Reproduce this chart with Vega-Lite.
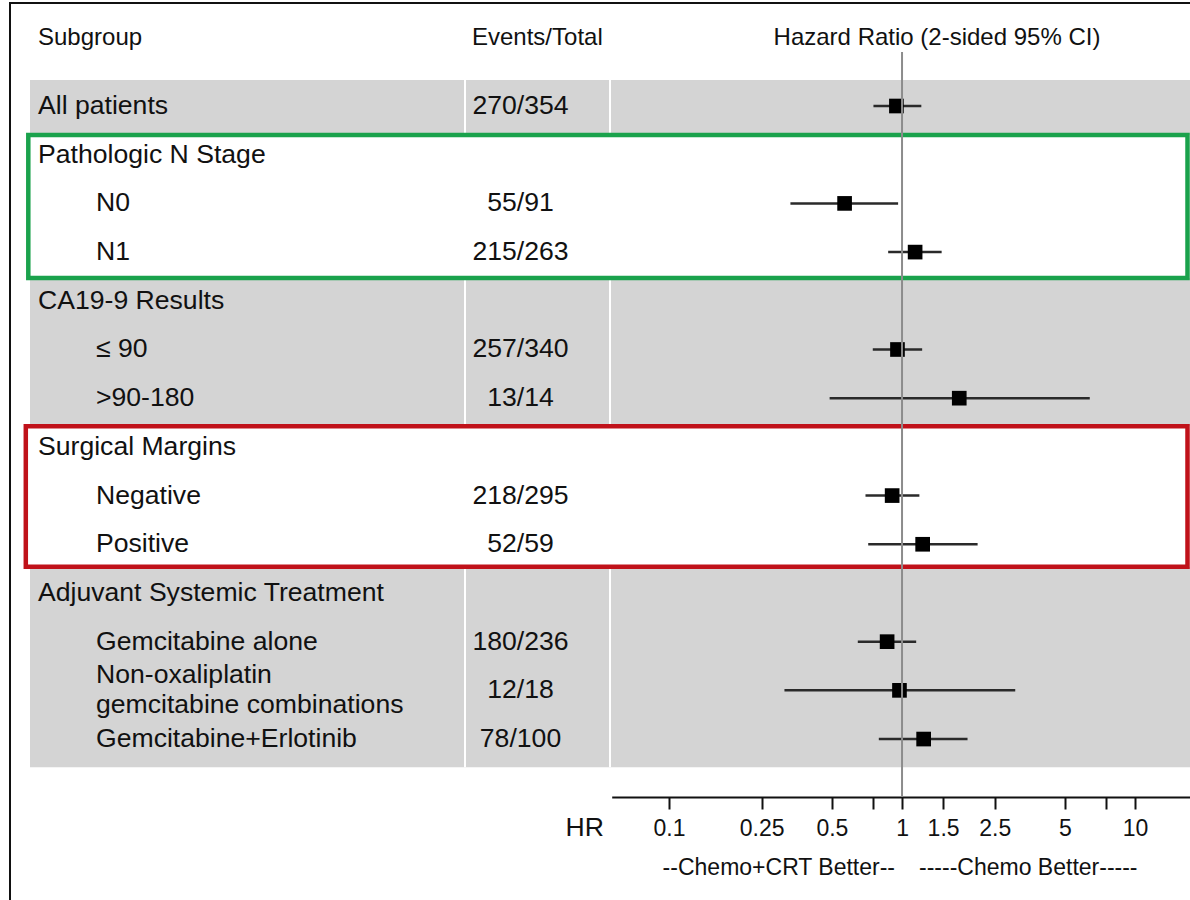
{
  "$schema": "https://vega.github.io/schema/vega-lite/v6.json",
  "width": 1190,
  "height": 797,
  "autosize": {"type": "none"},
  "padding": {"left": 0, "top": 0, "right": 0, "bottom": 103},
  "background": "white",
  "config": {
    "view": {"stroke": null},
    "text": {"font": "Liberation Sans", "color": "#111111"}
  },
  "datasets": {
    "rows": [
      {"row": 0, "label": "All patients", "level": 0, "events": "270/354", "hr": 0.946, "lo": 0.754, "hi": 1.21},
      {"row": 1, "label": "Pathologic N Stage", "level": 0},
      {"row": 2, "label": "N0", "level": 1, "events": "55/91", "hr": 0.567, "lo": 0.332, "hi": 0.962},
      {"row": 3, "label": "N1", "level": 1, "events": "215/263", "hr": 1.138, "lo": 0.872, "hi": 1.479},
      {"row": 4, "label": "CA19-9 Results", "level": 0},
      {"row": 5, "label": "≤ 90", "level": 1, "events": "257/340", "hr": 0.956, "lo": 0.749, "hi": 1.22},
      {"row": 6, "label": ">90-180", "level": 1, "events": "13/14", "hr": 1.76, "lo": 0.489, "hi": 6.39},
      {"row": 7, "label": "Surgical Margins", "level": 0},
      {"row": 8, "label": "Negative", "level": 1, "events": "218/295", "hr": 0.907, "lo": 0.697, "hi": 1.187},
      {"row": 9, "label": "Positive", "level": 1, "events": "52/59", "hr": 1.226, "lo": 0.716, "hi": 2.11},
      {"row": 10, "label": "Adjuvant Systemic Treatment", "level": 0},
      {"row": 11, "label": "Gemcitabine alone", "level": 1, "events": "180/236", "hr": 0.863, "lo": 0.646, "hi": 1.15},
      {"row": 12, "label": ["Non-oxaliplatin", "gemcitabine combinations"], "level": 1, "events": "12/18", "hr": 0.975, "lo": 0.313, "hi": 3.06},
      {"row": 13, "label": "Gemcitabine+Erlotinib", "level": 1, "events": "78/100", "hr": 1.238, "lo": 0.795, "hi": 1.91}
    ],
    "one": [{}]
  },
  "data": {"name": "rows"},
  "resolve": {"scale": {"x": "independent"}, "axis": {"x": "independent"}},
  "layer": [
    {
      "layer": [
        {"data": {"name": "one"}, "mark": {"type": "rect", "color": "#d4d4d4"},
         "encoding": {
           "x": {"datum": 30, "type": "quantitative", "scale": {"domain": [0, 1190], "nice": false, "zero": false}, "axis": null},
           "x2": {"datum": 1190},
           "y": {"datum": -0.534, "type": "quantitative", "scale": {"domain": [-2.177, 14.19], "reverse": true, "nice": false, "zero": false}, "axis": null},
           "y2": {"datum": 0.596}}},
        {"data": {"name": "one"}, "mark": {"type": "rect", "color": "#d4d4d4"},
         "encoding": {"x": {"datum": 30, "type": "quantitative"}, "x2": {"datum": 1190}, "y": {"datum": 3.533, "type": "quantitative"}, "y2": {"datum": 6.572}}},
        {"data": {"name": "one"}, "mark": {"type": "rect", "color": "#d4d4d4"},
         "encoding": {"x": {"datum": 30, "type": "quantitative"}, "x2": {"datum": 1190}, "y": {"datum": 9.468, "type": "quantitative"}, "y2": {"datum": 13.577}}},
        {"data": {"name": "one"}, "mark": {"type": "rule", "color": "white", "strokeWidth": 2},
         "encoding": {"x": {"datum": 465, "type": "quantitative"}, "y": {"datum": -0.534, "type": "quantitative"}, "y2": {"datum": 13.577}}},
        {"data": {"name": "one"}, "mark": {"type": "rule", "color": "white", "strokeWidth": 2},
         "encoding": {"x": {"datum": 610, "type": "quantitative"}, "y": {"datum": -0.534, "type": "quantitative"}, "y2": {"datum": 13.577}}},
        {"data": {"name": "one"}, "mark": {"type": "rect", "fill": null, "stroke": "#1aa24c", "strokeWidth": 4.5},
         "encoding": {"x": {"datum": 28.3, "type": "quantitative"}, "x2": {"datum": 1187.5}, "y": {"datum": 0.596, "type": "quantitative"}, "y2": {"datum": 3.533}}},
        {"data": {"name": "one"}, "mark": {"type": "rect", "fill": null, "stroke": "#c0121a", "strokeWidth": 4.5},
         "encoding": {"x": {"datum": 25.8, "type": "quantitative"}, "x2": {"datum": 1187.5}, "y": {"datum": 6.578, "type": "quantitative"}, "y2": {"datum": 9.462}}},
        {"data": {"name": "one"}, "mark": {"type": "rect", "fill": null, "stroke": "#111111", "strokeWidth": 2},
         "encoding": {"x": {"datum": 10, "type": "quantitative"}, "x2": {"datum": 1300}, "y": {"datum": -2.115, "type": "quantitative"}, "y2": {"datum": 17}}},
        {"data": {"name": "one"}, "mark": {"type": "text", "align": "left", "baseline": "middle", "fontSize": 24, "text": "Subgroup"},
         "encoding": {"x": {"datum": 38, "type": "quantitative"}, "y": {"datum": -1.397, "type": "quantitative"}}},
        {"data": {"name": "one"}, "mark": {"type": "text", "align": "left", "baseline": "middle", "fontSize": 24, "text": "Events/Total"},
         "encoding": {"x": {"datum": 472, "type": "quantitative"}, "y": {"datum": -1.397, "type": "quantitative"}}},
        {"data": {"name": "one"}, "mark": {"type": "text", "align": "center", "baseline": "middle", "fontSize": 24, "text": "Hazard Ratio (2-sided 95% CI)"},
         "encoding": {"x": {"datum": 937, "type": "quantitative"}, "y": {"datum": -1.397, "type": "quantitative"}}},
        {"transform": [{"filter": "datum.level == 0"}],
         "mark": {"type": "text", "align": "left", "baseline": "middle", "fontSize": 26.6},
         "encoding": {"x": {"datum": 38, "type": "quantitative"}, "y": {"field": "row", "type": "quantitative"}, "text": {"field": "label"}}},
        {"transform": [{"filter": "datum.level == 1 && !isArray(datum.label)"}],
         "mark": {"type": "text", "align": "left", "baseline": "middle", "fontSize": 26.6},
         "encoding": {"x": {"datum": 96, "type": "quantitative"}, "y": {"field": "row", "type": "quantitative"}, "text": {"field": "label"}}},
        {"transform": [{"filter": "datum.level == 1 && isArray(datum.label)"}],
         "mark": {"type": "text", "align": "left", "baseline": "middle", "fontSize": 26.6, "lineHeight": 30, "dy": -15},
         "encoding": {"x": {"datum": 96, "type": "quantitative"}, "y": {"field": "row", "type": "quantitative"}, "text": {"field": "label"}}},
        {"transform": [{"filter": "isValid(datum.events)"}],
         "mark": {"type": "text", "align": "center", "baseline": "middle", "fontSize": 26.6},
         "encoding": {"x": {"datum": 520.5, "type": "quantitative"}, "y": {"field": "row", "type": "quantitative"}, "text": {"field": "events"}}},
        {"data": {"name": "one"}, "mark": {"type": "text", "align": "right", "baseline": "middle", "fontSize": 26.6, "text": "HR"},
         "encoding": {"x": {"datum": 604, "type": "quantitative"}, "y": {"datum": 14.83, "type": "quantitative"}}}
      ]
    },
    {
      "layer": [
        {"transform": [{"filter": "isValid(datum.hr)"}],
         "mark": {"type": "rule", "color": "#2a2a2a", "strokeWidth": 2.5},
         "encoding": {
           "x": {"field": "lo", "type": "quantitative",
                 "scale": {"type": "log", "domain": [0.0568, 17.2], "range": [611.7, 1190], "nice": false, "zero": false},
                 "axis": {"orient": "bottom", "values": [0.1, 0.25, 0.5, 0.75, 1, 1.5, 2.5, 5, 7.5, 10],
                          "labelExpr": "datum.value == 0.75 || datum.value == 7.5 ? '' : format(datum.value, '~g')",
                          "title": null, "grid": false, "labelFont": "Liberation Sans", "labelFontSize": 23,
                          "labelColor": "#111111", "domainColor": "#111111", "domainWidth": 2, "tickColor": "#111111",
                          "tickWidth": 2, "tickSize": 12, "labelPadding": 8, "labelFlush": false, "labelOverlap": false}},
           "x2": {"field": "hi"},
           "y": {"field": "row", "type": "quantitative"}
         }},
        {"transform": [{"filter": "isValid(datum.hr)"}],
         "mark": {"type": "point", "shape": "square", "filled": true, "color": "black", "opacity": 1, "size": 215},
         "encoding": {"x": {"field": "hr", "type": "quantitative"}, "y": {"field": "row", "type": "quantitative"}}},
        {"data": {"name": "one"}, "mark": {"type": "rule", "color": "#8c8c8c", "strokeWidth": 2},
         "encoding": {"x": {"datum": 1, "type": "quantitative"}, "y": {"datum": -1.109, "type": "quantitative"}, "y2": {"datum": 14.19}}},
        {"data": {"name": "one"}, "mark": {"type": "text", "align": "right", "baseline": "middle", "fontSize": 23, "dx": -7, "text": "--Chemo+CRT Better--"},
         "encoding": {"x": {"datum": 1, "type": "quantitative"}, "y": {"datum": 15.65, "type": "quantitative"}}},
        {"data": {"name": "one"}, "mark": {"type": "text", "align": "left", "baseline": "middle", "fontSize": 23, "dx": 17, "text": "-----Chemo Better-----"},
         "encoding": {"x": {"datum": 1, "type": "quantitative"}, "y": {"datum": 15.65, "type": "quantitative"}}}
      ]
    }
  ]
}
